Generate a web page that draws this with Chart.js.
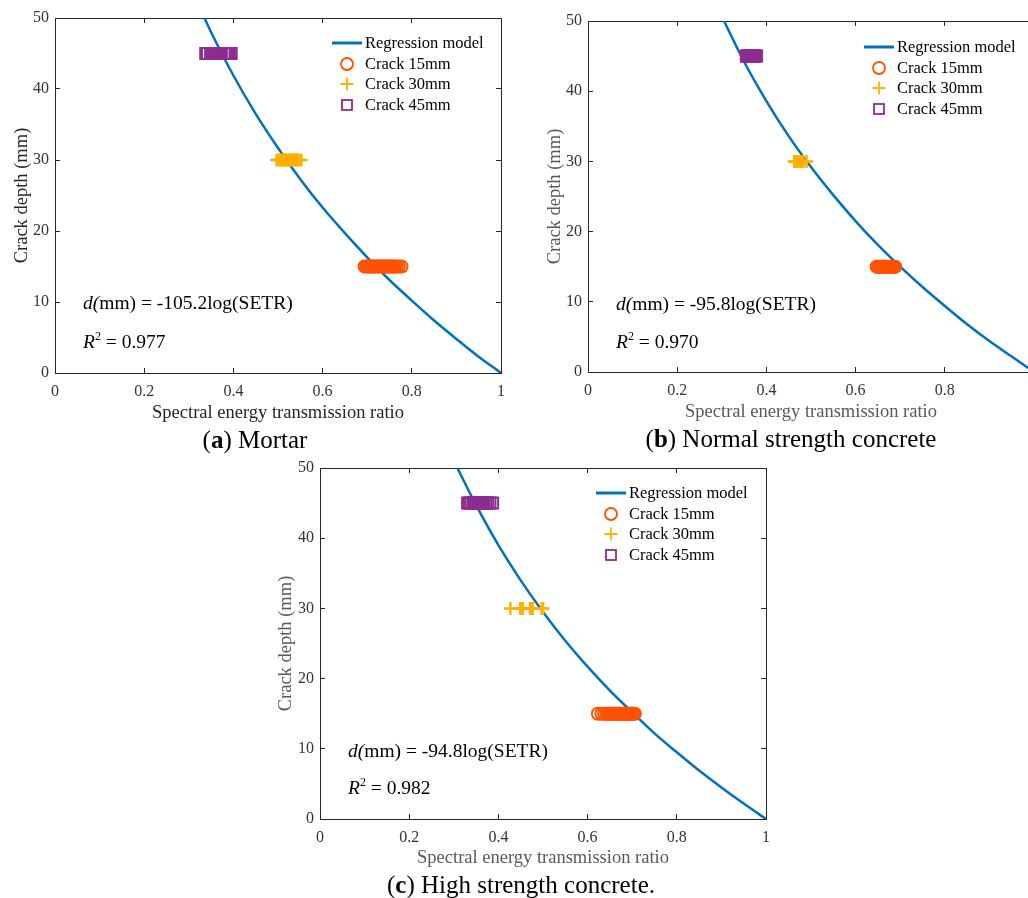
<!DOCTYPE html>
<html>
<head>
<meta charset="utf-8">
<script src="https://cdn.jsdelivr.net/npm/chart.js@4.4.1/dist/chart.umd.min.js"></script>
<style>
  html, body { margin: 0; padding: 0; background: #fff; overflow: hidden; }
  body { width: 1028px; height: 898px; position: relative; font-family: 'Liberation Serif', 'Times New Roman', serif; }
  .panel { position: absolute; overflow: hidden; }
  .panel canvas { position: absolute; left: 0; top: 0; }
  .eq { position: absolute; font-size: 19.5px; color: #000; white-space: nowrap; line-height: 20px; height: 20px; }
  .eq sup { font-size: 12px; position: relative; top: -8px; vertical-align: baseline; line-height: 0; }
  .legend-row { position: absolute; white-space: nowrap; height: 20px; line-height: 20px; font-size: 16.5px; color: #000; }
  .legend-row svg { position: absolute; left: 0; top: 0; }
  .legend-row span { position: absolute; top: 0; }
  .caption { position: absolute; font-size: 25px; white-space: nowrap; transform: translateX(-50%); line-height: 26px; color: #000; }
</style>
</head>
<body>
<div class="panel" style="left:0;top:0;width:510px;height:430px"><canvas id="chartA" width="510" height="430"></canvas></div>
<div class="panel" style="left:510px;top:0;width:518px;height:430px"><canvas id="chartB" width="530" height="430"></canvas></div>
<div class="panel" style="left:260px;top:450px;width:520px;height:430px"><canvas id="chartC" width="520" height="430"></canvas></div>

<div class="eq" style="left:83px;top:293px"><i>d(</i>mm) = -105.2log(SETR)</div>
<div class="eq" style="left:83px;top:332px"><i>R</i><sup>2</sup> = 0.977</div>
<div class="eq" style="left:616px;top:294px"><i>d(</i>mm) = -95.8log(SETR)</div>
<div class="eq" style="left:616px;top:332px"><i>R</i><sup>2</sup> = 0.970</div>
<div class="eq" style="left:348px;top:741px"><i>d(</i>mm) = -94.8log(SETR)</div>
<div class="eq" style="left:348px;top:778px"><i>R</i><sup>2</sup> = 0.982</div>

<div class="caption" style="left:255px;top:427px">(<b>a</b>) Mortar</div>
<div class="caption" style="left:791px;top:426px">(<b>b</b>) Normal strength concrete</div>
<div class="caption" style="left:521px;top:872px">(<b>c</b>) High strength concrete.</div>

<script>
const xTickValues = [0, 0.2, 0.4, 0.6, 0.8, 1];
const yTickValues = [0, 10, 20, 30, 40, 50];
const fitLabel = 'Regression model';
const crackLabels = ['Crack 15mm', 'Crack 30mm', 'Crack 45mm'];
const crackDepths = [15, 30, 45];

// (a) Mortar
const mortarFitX = [0.335, 0.35, 0.4, 0.45, 0.5, 0.55, 0.6, 0.65, 0.7, 0.75, 0.8, 0.85, 0.9, 0.95, 1];
const mortarFitY = [50.0, 48.0, 41.9, 36.5, 31.7, 27.3, 23.3, 19.7, 16.3, 13.1, 10.2, 7.4, 4.8, 2.3, 0];
const mortar15 = [0.694, 0.698, 0.702, 0.705, 0.708, 0.711, 0.714, 0.717, 0.72, 0.723, 0.726, 0.729, 0.732,
  0.735, 0.738, 0.741, 0.744, 0.747, 0.75, 0.753, 0.756, 0.759, 0.762, 0.766, 0.771, 0.777];
const mortar30 = [0.497, 0.503, 0.507, 0.51, 0.513, 0.516, 0.519, 0.522, 0.525, 0.528, 0.531, 0.534, 0.537,
  0.54, 0.543, 0.546, 0.552];
const mortar45 = [0.338, 0.342, 0.349, 0.352, 0.355, 0.358, 0.361, 0.364, 0.367, 0.37, 0.373, 0.379, 0.382,
  0.385, 0.388, 0.391, 0.395];

// (b) Normal strength concrete
const normalFitX = [0.305, 0.35, 0.4, 0.45, 0.5, 0.55, 0.6, 0.65, 0.7, 0.75, 0.8, 0.85, 0.9, 0.95, 1];
const normalFitY = [50.0, 44.2, 38.6, 33.6, 29.2, 25.2, 21.5, 18.1, 15.0, 12.1, 9.4, 6.8, 4.4, 2.2, 0];
const normal15 = [0.647, 0.65, 0.653, 0.656, 0.659, 0.662, 0.665, 0.668, 0.671, 0.674, 0.677, 0.68, 0.683,
  0.686, 0.689];
const normal30 = [0.462, 0.465, 0.467, 0.469, 0.471, 0.473, 0.475, 0.477, 0.479, 0.483, 0.49];
const normal45 = [0.355, 0.357, 0.359, 0.361, 0.363, 0.365, 0.367, 0.369, 0.371, 0.373, 0.375, 0.378];

// (c) High strength concrete
const highFitX = [0.308, 0.35, 0.4, 0.45, 0.5, 0.55, 0.6, 0.65, 0.7, 0.75, 0.8, 0.85, 0.9, 0.95, 1];
const highFitY = [50.0, 44.7, 39.0, 34.0, 29.5, 25.4, 21.7, 18.3, 15.2, 12.2, 9.5, 6.9, 4.5, 2.2, 0];
const high15 = [0.623, 0.631, 0.637, 0.642, 0.646, 0.649, 0.652, 0.655, 0.658, 0.661, 0.664, 0.667, 0.67,
  0.673, 0.676, 0.679, 0.682, 0.685, 0.688, 0.691, 0.694, 0.697, 0.70, 0.703, 0.706];
const high30 = [0.427, 0.449, 0.452, 0.455, 0.471, 0.474, 0.477, 0.497, 0.50];
const high45 = [0.331, 0.335, 0.339, 0.344, 0.347, 0.35, 0.353, 0.356, 0.359, 0.362, 0.365, 0.368, 0.372,
  0.376, 0.381, 0.387];

const fitColor = '#0072BD';
const crackColors = ['#FF5200', '#FFB000', '#8E2C90'];
const serif = 'Liberation Serif';

function tickFix(values) {
  return s => { s.ticks = values.map(v => ({ value: v })); };
}

function makeChart(id, fitX, fitY, c15, c30, c45, p) {
  const grid = { drawOnChartArea: false, drawTicks: true, tickLength: -5, color: '#262626', lineWidth: 1 };
  const border = { display: true, color: '#262626', width: 1 };
  const tickFont = { family: serif, size: 16 };
  const titleFont = { family: serif, size: 18.5 };
  const fmt = v => String(Math.round(v * 10) / 10);

  const crackSets = [c15, c30, c45].map((xs, i) => ({
    label: crackLabels[i],
    data: xs.map(x => ({ x: x, y: crackDepths[i] })),
    pointStyle: ['circle', 'cross', 'rect'][i],
    pointRadius: [6, 6.5, 7.8][i],
    borderColor: crackColors[i],
    backgroundColor: 'rgba(0,0,0,0)',
    borderWidth: [2, 2.5, 2][i],
    order: i + 1
  }));

  new Chart(document.getElementById(id).getContext('2d'), {
    type: 'scatter',
    data: {
      datasets: [{
        label: fitLabel,
        data: fitX.map((x, i) => ({ x: x, y: fitY[i] })),
        showLine: true,
        borderColor: fitColor,
        borderWidth: 2.5,
        pointRadius: 0,
        cubicInterpolationMode: 'monotone',
        order: 10
      }].concat(crackSets)
    },
    options: {
      responsive: false,
      animation: false,
      devicePixelRatio: 1,
      layout: { autoPadding: false, padding: { left: 0, top: p.top, right: p.right, bottom: 0 } },
      plugins: { legend: { display: false }, tooltip: { enabled: false } },
      scales: {
        x: {
          type: 'linear', position: 'bottom', min: 0, max: 1,
          afterBuildTicks: tickFix(xTickValues),
          afterFit: s => { s.height = p.xHeight; s.paddingLeft = 0; s.paddingRight = 0; },
          grid: grid, border: border,
          ticks: { padding: 14, color: '#333', font: tickFont, maxRotation: 0, autoSkip: false, callback: fmt },
          title: { display: true, text: 'Spectral energy transmission ratio', color: p.titleColor, font: titleFont, padding: { top: 0, bottom: p.xTitlePad } }
        },
        x2: {
          type: 'linear', position: 'top', min: 0, max: 1,
          afterBuildTicks: tickFix(xTickValues),
          afterFit: s => { s.height = 0; s.paddingLeft = 0; s.paddingRight = 0; },
          grid: grid, border: border,
          ticks: { display: false }
        },
        y: {
          type: 'linear', position: 'left', min: 0, max: 50,
          afterBuildTicks: tickFix(yTickValues),
          afterFit: s => { s.width = p.yWidth; s.paddingTop = 0; s.paddingBottom = 0; },
          grid: grid, border: border,
          ticks: { padding: 11, color: '#333', font: tickFont, autoSkip: false, callback: fmt },
          title: { display: true, text: 'Crack depth (mm)', color: p.titleColor, font: titleFont, padding: { top: p.yTitlePad, bottom: 0 } }
        },
        y2: {
          type: 'linear', position: 'right', min: 0, max: 50,
          afterBuildTicks: tickFix(yTickValues),
          afterFit: s => { s.width = 0; s.paddingTop = 0; s.paddingBottom = 0; },
          grid: grid, border: border,
          ticks: { display: false }
        }
      }
    }
  });
}

function buildLegend(left, top) {
  const syms = [
    `<line x1="0" y1="10" x2="30" y2="10" stroke="${fitColor}" stroke-width="3"/>`,
    `<circle cx="15" cy="10" r="6" fill="none" stroke="${crackColors[0]}" stroke-width="1.8"/>`,
    `<path d="M8.5 10H21.5M15 3.5V16.5" stroke="${crackColors[1]}" stroke-width="1.8" fill="none"/>`,
    `<rect x="10" y="5" width="10" height="10" fill="none" stroke="${crackColors[2]}" stroke-width="1.8"/>`
  ];
  const labels = [fitLabel].concat(crackLabels);
  labels.forEach((lab, i) => {
    const row = document.createElement('div');
    row.className = 'legend-row';
    row.style.left = left + 'px';
    row.style.top = (top - 10 + i * 20.7) + 'px';
    row.innerHTML = `<svg width="32" height="20">${syms[i]}</svg><span style="left:33px">${lab}</span>`;
    document.body.appendChild(row);
  });
}

makeChart('chartA', mortarFitX, mortarFitY, mortar15, mortar30, mortar45,
  { top: 18, right: 9, xHeight: 57, yWidth: 55, xTitlePad: 6, yTitlePad: 11, titleColor: '#262626' });
makeChart('chartB', normalFitX, normalFitY, normal15, normal30, normal45,
  { top: 21, right: 6, xHeight: 58, yWidth: 78, xTitlePad: 7, yTitlePad: 34, titleColor: '#595959' });
makeChart('chartC', highFitX, highFitY, high15, high30, high45,
  { top: 18, right: 14, xHeight: 61, yWidth: 60, xTitlePad: 11, yTitlePad: 15, titleColor: '#595959' });

buildLegend(332, 43);
buildLegend(864, 47);
buildLegend(596, 493);
</script>
</body>
</html>
